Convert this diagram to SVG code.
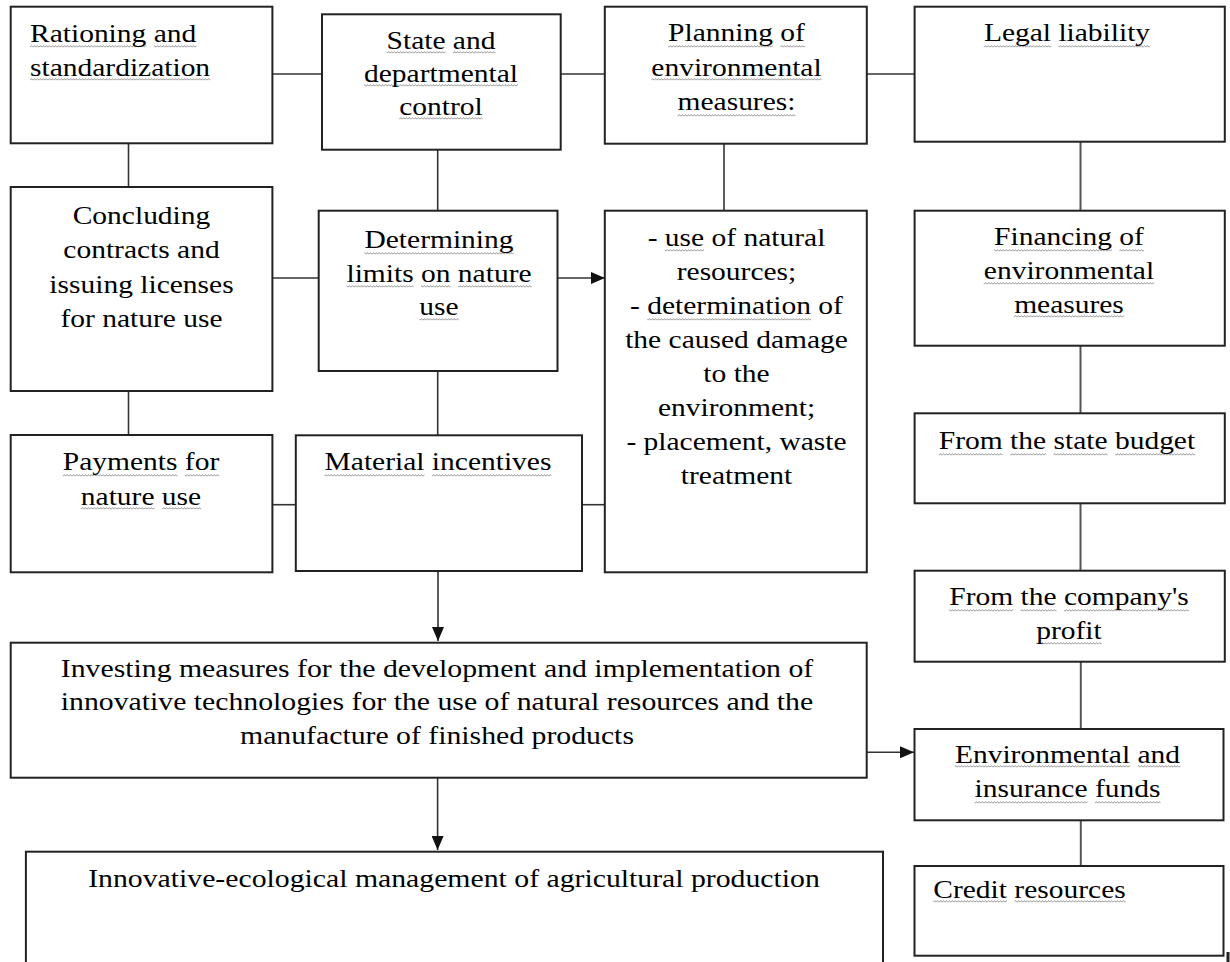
<svg xmlns="http://www.w3.org/2000/svg" width="1230" height="962" viewBox="0 0 1230 962">
<style>
.b{fill:#fff;stroke:#222;stroke-width:2}
.c line{stroke:#333;stroke-width:1.6}
.c line.g{stroke:#555;stroke-width:2}
.t{font-family:"Liberation Serif","Times New Roman",serif;font-size:25px;fill:#000}
.m{text-anchor:middle}
.w{fill:url(#wv)}
</style>
<defs>
<marker id="ah" markerUnits="userSpaceOnUse" markerWidth="14" markerHeight="12" refX="14" refY="6" orient="auto">
<path d="M0,0 L14,6 L0,12 z" fill="#111"/>
</marker>
<pattern id="wv" patternUnits="userSpaceOnUse" x="0" y="0" width="3" height="3">
<path d="M0,2.4 L1.5,0.6 L3,2.4" fill="none" stroke="#8c8c8c" stroke-width="0.9"/>
</pattern>
</defs>
<rect width="1230" height="962" fill="#fff"/>

<g id="connectors" class="c">
<line x1="272" y1="74" x2="322" y2="74"/>
<line x1="561" y1="74" x2="605" y2="74"/>
<line x1="867" y1="74" x2="915" y2="74"/>
<line x1="128.5" y1="143" x2="128.5" y2="187"/>
<line x1="437.7" y1="150" x2="437.7" y2="211"/>
<line x1="724" y1="144" x2="724" y2="211"/>
<line class="g" x1="1080.5" y1="142" x2="1080.5" y2="211"/>
<line x1="272" y1="278" x2="319" y2="278"/>
<line x1="557.5" y1="278" x2="605" y2="278" marker-end="url(#ah)" stroke-width="2"/>
<line x1="128.5" y1="391" x2="128.5" y2="435"/>
<line x1="437.7" y1="346" x2="437.7" y2="435"/>
<line class="g" x1="1080.5" y1="346" x2="1080.5" y2="413"/>
<line x1="272" y1="504.7" x2="296" y2="504.7"/>
<line x1="582" y1="504.7" x2="605" y2="504.7"/>
<line class="g" x1="1080.5" y1="503" x2="1080.5" y2="571"/>
<line x1="438" y1="571" x2="438" y2="641" marker-end="url(#ah)"/>
<line class="g" x1="1080.8" y1="662" x2="1080.8" y2="729"/>
<line x1="867" y1="752.3" x2="914" y2="752.3" marker-end="url(#ah)" stroke-width="2.4"/>
<line x1="437.6" y1="775" x2="437.6" y2="850" marker-end="url(#ah)"/>
<line class="g" x1="1080.8" y1="820" x2="1080.8" y2="866"/>
<line x1="1228" y1="952" x2="1228" y2="962" style="stroke:#222;stroke-width:3"/>
</g>

<g id="rationing">
<rect class="b" x="10.7" y="6.7" width="261.7" height="136.6"/>
<rect class="w" x="30" y="45" width="116.4" height="3"/>
<rect class="w" x="153.8" y="45" width="42.6" height="3"/>
<rect class="w" x="30" y="78" width="180.2" height="3"/>
<text class="t" transform="translate(30,41.5) scale(1.18,1)">Rationing and</text>
<text class="t" transform="translate(30,75.5) scale(1.18,1)">standardization</text>
</g>

<g id="state-control">
<rect class="b" x="322" y="14.3" width="238.7" height="135.4"/>
<rect class="w" x="386.5" y="51" width="59" height="3"/>
<rect class="w" x="452.9" y="51" width="42.6" height="3"/>
<rect class="w" x="364" y="84" width="154" height="3"/>
<rect class="w" x="399.2" y="117" width="83.6" height="3"/>
<text class="t m" transform="translate(441,49) scale(1.18,1)">State and</text>
<text class="t m" transform="translate(441,82) scale(1.18,1)">departmental</text>
<text class="t m" transform="translate(441,115) scale(1.18,1)">control</text>
</g>

<g id="planning">
<rect class="b" x="604.8" y="6.7" width="262" height="137"/>
<rect class="w" x="668" y="45" width="104.9" height="3"/>
<rect class="w" x="780.3" y="45" width="24.6" height="3"/>
<rect class="w" x="651.3" y="78" width="170.4" height="3"/>
<rect class="w" x="677.5" y="114" width="118" height="3"/>
<text class="t m" transform="translate(736.5,41) scale(1.18,1)">Planning of</text>
<text class="t m" transform="translate(736.5,75.5) scale(1.18,1)">environmental</text>
<text class="t m" transform="translate(736.5,110) scale(1.18,1)">measures:</text>
</g>

<g id="legal-liability">
<rect class="b" x="914.6" y="6.7" width="310.2" height="135"/>
<rect class="w" x="983.8" y="45" width="67.2" height="3"/>
<rect class="w" x="1058.4" y="45" width="91.8" height="3"/>
<text class="t m" transform="translate(1067,41) scale(1.18,1)">Legal liability</text>
</g>

<g id="concluding">
<rect class="b" x="10.7" y="187" width="261.7" height="204"/>
<text class="t m" transform="translate(141.5,223.5) scale(1.18,1)">Concluding</text>
<text class="t m" transform="translate(141.5,258) scale(1.18,1)">contracts and</text>
<text class="t m" transform="translate(141.5,292.5) scale(1.18,1)">issuing licenses</text>
<text class="t m" transform="translate(141.5,327) scale(1.18,1)">for nature use</text>
</g>

<g id="determining">
<rect class="b" x="318.7" y="210.7" width="238.8" height="160.3"/>
<rect class="w" x="364.4" y="252" width="149.2" height="3"/>
<rect class="w" x="346.4" y="285" width="67.2" height="3"/>
<rect class="w" x="421" y="285" width="29.5" height="3"/>
<rect class="w" x="457.9" y="285" width="73.7" height="3"/>
<rect class="w" x="419.3" y="318" width="39.4" height="3"/>
<text class="t m" transform="translate(439,248) scale(1.18,1)">Determining</text>
<text class="t m" transform="translate(439,281.5) scale(1.18,1)">limits on nature</text>
<text class="t m" transform="translate(439,315) scale(1.18,1)">use</text>
</g>

<g id="measures-list">
<rect class="b" x="604.8" y="210.7" width="262" height="361.6"/>
<rect class="w" x="664.8" y="249" width="39.3" height="3"/>
<rect class="w" x="647.2" y="318" width="163.9" height="3"/>
<text class="t m" transform="translate(736.5,245.5) scale(1.18,1)">- use of natural</text>
<text class="t m" transform="translate(736.5,279.5) scale(1.18,1)">resources;</text>
<text class="t m" transform="translate(736.5,313.5) scale(1.18,1)">- determination of</text>
<text class="t m" transform="translate(736.5,347.5) scale(1.18,1)">the caused damage</text>
<text class="t m" transform="translate(736.5,381.5) scale(1.18,1)">to the</text>
<text class="t m" transform="translate(736.5,415.5) scale(1.18,1)">environment;</text>
<text class="t m" transform="translate(736.5,449.5) scale(1.18,1)">- placement, waste</text>
<text class="t m" transform="translate(736.5,483.5) scale(1.18,1)">treatment</text>
</g>

<g id="financing">
<rect class="b" x="914.6" y="210.7" width="310.2" height="135"/>
<rect class="w" x="994" y="249" width="118" height="3"/>
<rect class="w" x="1119.4" y="249" width="24.6" height="3"/>
<rect class="w" x="983.8" y="282" width="170.4" height="3"/>
<rect class="w" x="1014.1" y="315" width="109.8" height="3"/>
<text class="t m" transform="translate(1069,245) scale(1.18,1)">Financing of</text>
<text class="t m" transform="translate(1069,279) scale(1.18,1)">environmental</text>
<text class="t m" transform="translate(1069,313) scale(1.18,1)">measures</text>
</g>

<g id="payments">
<rect class="b" x="10.7" y="435" width="261.7" height="137.3"/>
<rect class="w" x="62.8" y="474" width="114.7" height="3"/>
<rect class="w" x="184.9" y="474" width="34.4" height="3"/>
<rect class="w" x="80.8" y="507" width="73.7" height="3"/>
<rect class="w" x="161.9" y="507" width="39.3" height="3"/>
<text class="t m" transform="translate(141,470) scale(1.18,1)">Payments for</text>
<text class="t m" transform="translate(141,505) scale(1.18,1)">nature use</text>
</g>

<g id="material-incentives">
<rect class="b" x="295.8" y="435.3" width="286.2" height="135.7"/>
<rect class="w" x="324.5" y="474" width="100" height="3"/>
<rect class="w" x="431.9" y="474" width="119.6" height="3"/>
<text class="t m" transform="translate(438,470) scale(1.18,1)">Material incentives</text>
</g>

<g id="state-budget">
<rect class="b" x="914.6" y="413.3" width="310.2" height="90"/>
<rect class="w" x="938.8" y="453" width="63.9" height="3"/>
<rect class="w" x="1010.1" y="453" width="36" height="3"/>
<rect class="w" x="1053.5" y="453" width="54.1" height="3"/>
<rect class="w" x="1115" y="453" width="80.3" height="3"/>
<text class="t m" transform="translate(1067,449.3) scale(1.18,1)">From the state budget</text>
</g>

<g id="company-profit">
<rect class="b" x="914.6" y="570.7" width="310.2" height="91"/>
<rect class="w" x="949.2" y="609" width="63.9" height="3"/>
<rect class="w" x="1020.5" y="609" width="36" height="3"/>
<rect class="w" x="1063.9" y="609" width="124.9" height="3"/>
<rect class="w" x="1036.2" y="642" width="65.6" height="3"/>
<text class="t m" transform="translate(1069,605) scale(1.18,1)">From the company's</text>
<text class="t m" transform="translate(1069,638.5) scale(1.18,1)">profit</text>
</g>

<g id="investing">
<rect class="b" x="10.7" y="642.7" width="856" height="135"/>
<text class="t m" transform="translate(437,676.5) scale(1.19,1)">Investing measures for the development and implementation of</text>
<text class="t m" transform="translate(437,710) scale(1.19,1)">innovative technologies for the use of natural resources and the</text>
<text class="t m" transform="translate(437,743.5) scale(1.19,1)">manufacture of finished products</text>
</g>

<g id="funds">
<rect class="b" x="914.5" y="729" width="309" height="91.3"/>
<rect class="w" x="954.8" y="765" width="175.4" height="3"/>
<rect class="w" x="1137.6" y="765" width="42.6" height="3"/>
<rect class="w" x="974.5" y="801" width="113" height="3"/>
<rect class="w" x="1094.9" y="801" width="65.6" height="3"/>
<text class="t m" transform="translate(1067.5,763.3) scale(1.18,1)">Environmental and</text>
<text class="t m" transform="translate(1067.5,797.3) scale(1.18,1)">insurance funds</text>
</g>

<g id="innovative-management">
<rect class="b" x="25.9" y="851.7" width="857.1" height="120"/>
<text class="t m" transform="translate(454,886.7) scale(1.19,1)">Innovative-ecological management of agricultural production</text>
</g>

<g id="credit">
<rect class="b" x="914.5" y="866" width="309" height="89.7"/>
<rect class="w" x="933.3" y="900" width="73.7" height="3"/>
<rect class="w" x="1014.4" y="900" width="111.4" height="3"/>
<text class="t" transform="translate(933.3,898.3) scale(1.18,1)">Credit resources</text>
</g>
</svg>
